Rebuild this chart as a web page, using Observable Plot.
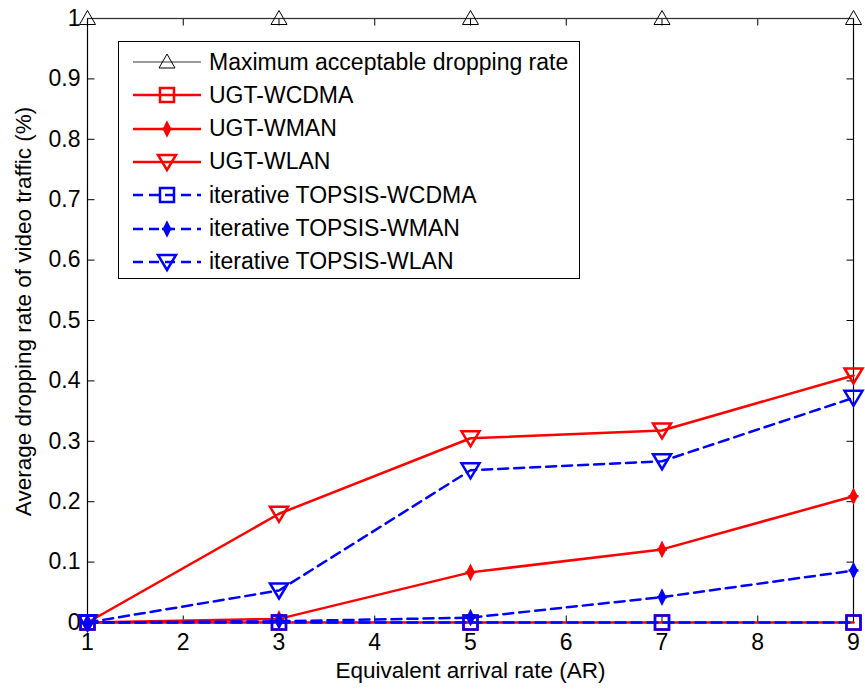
<!DOCTYPE html>
<html><head><meta charset="utf-8">
<script src="https://cdn.jsdelivr.net/npm/d3@7"></script>
<script src="https://cdn.jsdelivr.net/npm/@observablehq/plot@0.6"></script>
<style>
body{margin:0;background:#fff;}
#wrap{position:relative;width:865px;height:689px;font-family:Arial,"Liberation Sans",sans-serif;}
#legend{position:absolute;left:118px;top:41px;width:462px;height:238px;border:1px solid #000;background:#fff;box-sizing:border-box;}
.row{position:absolute;left:0;height:34px;display:flex;align-items:center;font-size:23px;color:#000;white-space:nowrap;}
.row svg{display:block;margin-left:12px;margin-right:6px;}
</style></head><body><div id="wrap"></div>
<script>
// ---- data ----
const arrivalRate = [1, 3, 5, 7, 9];
const maxAcceptable = [1, 1, 1, 1, 1];
const ugtWCDMA = [0, 0, 0, 0, 0];
const ugtWMAN = [0, 0.006, 0.083, 0.121, 0.209];
const ugtWLAN = [0, 0.180, 0.305, 0.318, 0.409];
const topsisWCDMA = [0, 0, 0, 0, 0];
const topsisWMAN = [0, 0.002, 0.008, 0.042, 0.086];
const topsisWLAN = [0, 0.053, 0.252, 0.267, 0.372];
const xTicks = [1, 2, 3, 4, 5, 6, 7, 8, 9];
const yTicks = [0, 0.1, 0.2, 0.3, 0.4, 0.5, 0.6, 0.7, 0.8, 0.9, 1];
const seriesNames = ["Maximum acceptable dropping rate", "UGT-WCDMA", "UGT-WMAN", "UGT-WLAN",
  "iterative TOPSIS-WCDMA", "iterative TOPSIS-WMAN", "iterative TOPSIS-WLAN"];
const xLabel = "Equivalent arrival rate (AR)";
const yLabel = "Average dropping rate of video traffic (%)";

// ---- symbols (pixel shapes) ----
const triUp = {draw(c){ c.moveTo(-8, 6); c.lineTo(8, 6); c.lineTo(0, -8); c.closePath(); }};
const triDown = {draw(c){ c.moveTo(-9, -7); c.lineTo(9, -7); c.lineTo(0, 8); c.closePath(); }};
const sq = {draw(c){ c.rect(-7, -7, 14, 14); }};
const star = {draw(c){ c.moveTo(0, -6); c.lineTo(3, 0); c.lineTo(0, 6); c.lineTo(-3, 0); c.closePath();
  c.moveTo(-5, 0); c.lineTo(5, 0); }};
const tickUp = {draw(c){ c.moveTo(0, 0); c.lineTo(0, -7); }};
const tickDown = {draw(c){ c.moveTo(0, 0); c.lineTo(0, 7); }};
const tickRight = {draw(c){ c.moveTo(0, 0); c.lineTo(7, 0); }};
const tickLeft = {draw(c){ c.moveTo(0, 0); c.lineTo(-7, 0); }};

const RED = "#ff0000", BLUE = "#0000ff";
const styles = [
  {stroke: "#333", width: 1, dash: null, symbol: triUp, fill: "none", mw: 1, mstroke: "#000"},
  {stroke: RED, width: 2.5, dash: null, symbol: sq, fill: "none", mw: 2.5},
  {stroke: RED, width: 2.5, dash: null, symbol: star, fill: RED, mw: 2.5},
  {stroke: RED, width: 2.5, dash: null, symbol: triDown, fill: "none", mw: 2.5},
  {stroke: BLUE, width: 2.5, dash: "10,6", symbol: sq, fill: "none", mw: 2.5},
  {stroke: BLUE, width: 2.5, dash: "10,6", symbol: star, fill: BLUE, mw: 2.5},
  {stroke: BLUE, width: 2.5, dash: "10,6", symbol: triDown, fill: "none", mw: 2.5}
];
const seriesValues = [maxAcceptable, ugtWCDMA, ugtWMAN, ugtWLAN, topsisWCDMA, topsisWMAN, topsisWLAN];

const marks = [];
seriesValues.forEach((vals, i) => {
  const s = styles[i];
  const data = arrivalRate.map((x, j) => ({x, y: vals[j]}));
  marks.push(Plot.line(data, {x: "x", y: "y", stroke: s.stroke, strokeWidth: s.width,
    strokeDasharray: s.dash || undefined}));
  marks.push(Plot.dot(data, {x: "x", y: "y", symbol: s.symbol, r: 5, stroke: s.mstroke || s.stroke,
    fill: s.fill, strokeWidth: s.mw}));
});

const plot = Plot.plot({
  width: 865, height: 689,
  marginLeft: 87, marginRight: 12, marginTop: 18, marginBottom: 67,
  x: {domain: [1, 9]},
  y: {domain: [0, 1]},
  style: {fontFamily: "Arial, 'Liberation Sans', sans-serif", fontSize: "23px", background: "white", color: "black"},
  marks: [
    Plot.axisX(xTicks, {anchor: "bottom", tickSize: 0, tickPadding: 11, fontSize: 23, label: null}),
    Plot.axisY(yTicks, {anchor: "left", tickSize: 0, tickPadding: 7, fontSize: 23, label: null, tickFormat: d => String(d)}),
    Plot.dot(xTicks, {x: d => d, frameAnchor: "bottom", symbol: tickUp, stroke: "black", strokeWidth: 1}),
    Plot.dot(xTicks, {x: d => d, frameAnchor: "top", symbol: tickDown, stroke: "black", strokeWidth: 1}),
    Plot.dot(yTicks, {y: d => d, frameAnchor: "left", symbol: tickRight, stroke: "black", strokeWidth: 1}),
    Plot.dot(yTicks, {y: d => d, frameAnchor: "right", symbol: tickLeft, stroke: "black", strokeWidth: 1}),
    Plot.text([xLabel], {frameAnchor: "bottom", lineAnchor: "middle", textAnchor: "middle", dy: 48, fontSize: 22.5}),
    Plot.text([yLabel], {frameAnchor: "left", textAnchor: "middle", lineAnchor: "middle", rotate: -90, dx: -64, dy: -9, fontSize: 22.5}),
    Plot.frame({stroke: "black", strokeWidth: 1.2}),
    ...marks
  ]
});
const wrap = document.getElementById("wrap");
wrap.appendChild(plot);

// ---- legend ----
const legend = document.createElement("div");
legend.id = "legend";
seriesNames.forEach((name, i) => {
  const s = styles[i];
  const row = document.createElement("div");
  row.className = "row";
  row.style.top = (3 + i * 33.3) + "px";
  const p = d3.path();
  s.symbol.draw(p);
  row.innerHTML = `<svg width="72" height="34" viewBox="0 0 72 34">
    <line x1="2" y1="17" x2="70" y2="17" stroke="${s.stroke}" stroke-width="${s.width}" ${s.dash ? `stroke-dasharray="${s.dash}"` : ""}/>
    <path transform="translate(36,17)" d="${p.toString()}" fill="${s.fill}" stroke="${s.mstroke || s.stroke}" stroke-width="${s.mw}"/>
  </svg><span>${name}</span>`;
  legend.appendChild(row);
});
wrap.appendChild(legend);
</script>
</body></html>
